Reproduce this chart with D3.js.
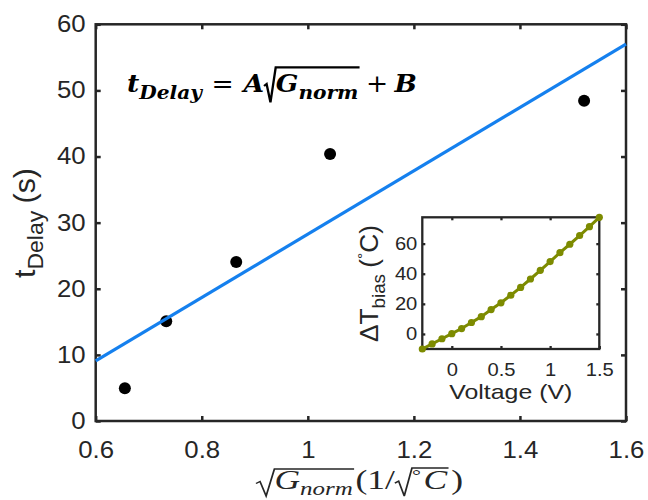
<!DOCTYPE html>
<html>
<head>
<meta charset="utf-8">
<script src="https://cdn.jsdelivr.net/npm/d3@7"></script>
<style>
body { margin: 0; background: #fff; }
svg { display: block; }
</style>
</head>
<body>
<svg id="chart" width="648" height="500"></svg>
<script>
// main plot: measured delay vs sqrt(G_norm)
var sqrtG = [0.655, 0.733, 0.865, 1.042, 1.521];
var tDelay = [4.95, 15.1, 24.05, 40.4, 48.45];
// fitted line t = A*sqrt(G) + B, end points
var fitX = [0.6, 1.6];
var fitT = [9.1, 57.0];
var xTicks = [0.6, 0.8, 1, 1.2, 1.4, 1.6];
var yTicks = [0, 10, 20, 30, 40, 50, 60];

// inset: bias temperature vs voltage
var voltage = [-0.3, -0.2, -0.1, 0, 0.1, 0.2, 0.3, 0.4, 0.5, 0.6, 0.7, 0.8, 0.9, 1.0, 1.1, 1.2, 1.3, 1.4, 1.5];
var dTbias = [-10, -6.6, -3.2, 0.2, 3.6, 7.6, 11.5, 16.2, 20.7, 25.7, 30.9, 36.5, 42.3, 48.1, 54, 59.6, 65.4, 71.3, 77.5];
var insetXTicks = [0, 0.5, 1, 1.5];
var insetYTicks = [0, 20, 40, 60];

var ink = "#262626";
var sans = "'Liberation Sans', Arial, sans-serif";
var svg = d3.select("#chart");

var x = d3.scaleLinear().domain([0.6, 1.6]).range([95.7, 626]);
var y = d3.scaleLinear().domain([0, 60]).range([421, 24.3]);

function stretch(sel, k) {
	sel.each(function() {
		var w = this.getComputedTextLength();
		d3.select(this).attr("textLength", w * k).attr("lengthAdjust", "spacingAndGlyphs");
	});
}

function styleAxis(g, size, sw) {
	g.select(".domain").remove();
	g.selectAll("line").attr("stroke", ink).attr("stroke-width", sw);
	g.selectAll("text").attr("fill", ink).style("font-family", sans).style("font-size", size + "px");
}

function drawAxes(g, sx, sy, xt, yt, tick, pad, size, sw, fmt) {
	var r = sx.range(), h = sy.range();
	var gb = g.append("g").attr("transform", "translate(0," + h[0] + ")")
		.call(d3.axisBottom(sx).tickValues(xt).tickSize(-tick).tickSizeOuter(0).tickPadding(pad[0]).tickFormat(fmt));
	var gt = g.append("g").attr("transform", "translate(0," + h[1] + ")")
		.call(d3.axisTop(sx).tickValues(xt).tickSize(-tick).tickSizeOuter(0).tickFormat(""));
	var gl = g.append("g").attr("transform", "translate(" + r[0] + ",0)")
		.call(d3.axisLeft(sy).tickValues(yt).tickSize(-tick).tickSizeOuter(0).tickPadding(pad[1]).tickFormat(d3.format("d")));
	var gr = g.append("g").attr("transform", "translate(" + r[1] + ",0)")
		.call(d3.axisRight(sy).tickValues(yt).tickSize(-tick).tickSizeOuter(0).tickFormat(""));
	[gb, gt, gl, gr].forEach(function(a) { styleAxis(a, size, sw); });
	stretch(gb.selectAll("text"), 1.12);
	stretch(gl.selectAll("text"), 1.12);
	g.append("rect")
		.attr("x", r[0]).attr("y", h[1])
		.attr("width", r[1] - r[0]).attr("height", h[0] - h[1])
		.attr("fill", "none").attr("stroke", ink).attr("stroke-width", sw);
}

// lays out a row of text pieces (with radicals), returns its width
function mathRow(g, parts, def) {
	var cx = 0, stack = [];
	parts.forEach(function(p) {
		if (p.rad === "start") {
			stack.push({ x: cx, p: p });
			cx += p.w;
			return;
		}
		if (p.rad === "end") {
			var r = stack.pop(), q = r.p;
			var x0 = r.x, yb = q.bot, yt = q.top;
			var d = "M" + x0 + "," + (yb + yt) * 0.42 +
				"L" + (x0 + q.w * 0.22) + "," + ((yb + yt) * 0.42 - 2) +
				"L" + (x0 + q.w * 0.55) + "," + yb +
				"L" + (x0 + q.w) + "," + yt +
				"L" + (cx + 1) + "," + yt;
			g.append("path").attr("d", d).attr("fill", "none")
				.attr("stroke", def.fill).attr("stroke-width", q.sw).attr("stroke-linejoin", "miter");
			cx += 2;
			return;
		}
		cx += p.pl || 0;
		var t = g.append("text")
			.attr("x", cx).attr("y", p.dy || 0)
			.attr("fill", def.fill)
			.style("font-family", p.family || def.family)
			.style("font-size", (p.size || def.size) + "px")
			.style("font-style", p.style || def.style)
			.style("font-weight", p.weight || def.weight);
		if (p.sup) {
			// raised degree sign sharing the text element with what follows
			t.append("tspan").attr("dy", p.sup.dy)
				.style("font-size", p.sup.size + "px").style("font-style", "normal")
				.text(p.sup.s);
			t.append("tspan").attr("dy", -p.sup.dy).attr("dx", p.sup.gap || 0).text(p.s);
		} else {
			t.text(p.s);
		}
		cx += t.node().getComputedTextLength() + (p.sup && p.sup.gap || 0) + (p.pr || 0);
	});
	return cx;
}

function fitRow(parts, def, x0, y0, target, rot) {
	var g = svg.append("g");
	var w = mathRow(g, parts, def);
	g.attr("transform", "translate(" + x0 + "," + y0 + ")" + (rot ? " rotate(-90)" : "") + " scale(" + (target / w) + ",1)");
	return g;
}

// ---------- main plot ----------
var main = svg.append("g");
drawAxes(main, x, y, xTicks, yTicks, 5, [21, 10], 23, 2.5, function(d) { return d3.format("")(d); });

main.selectAll("circle.pt")
	.data(sqrtG)
	.enter().append("circle")
	.attr("class", "pt")
	.attr("cx", function(d) { return x(d); })
	.attr("cy", function(d, i) { return y(tDelay[i]); })
	.attr("r", 6)
	.attr("fill", "#000");

main.append("path")
	.datum(fitX)
	.attr("fill", "none")
	.attr("stroke", "#1580ee")
	.attr("stroke-width", 3.2)
	.attr("d", d3.line().x(function(d) { return x(d); }).y(function(d, i) { return y(fitT[i]); }));

// equation
fitRow([
	{ s: "t" },
	{ s: "Delay", size: 19, dy: 7 },
	{ s: "=", style: "normal", weight: "normal", pl: 9, pr: 9 },
	{ s: "A" },
	{ rad: "start", w: 11, top: -25, bot: 10, sw: 2.2 },
	{ s: "G" },
	{ s: "norm", size: 19, dy: 7 },
	{ rad: "end" },
	{ s: "+", style: "normal", weight: "normal", pl: 5, pr: 6 },
	{ s: "B" }
], { family: "'DejaVu Serif', serif", size: 25, style: "italic", weight: "bold", fill: "#000" }, 127, 92.3, 290, false);

// x label
fitRow([
	{ rad: "start", w: 14, top: -20, bot: 7, sw: 1.3 },
	{ s: "G" },
	{ s: "norm", size: 19, dy: 6 },
	{ rad: "end" },
	{ s: "(1/", style: "normal" },
	{ rad: "start", w: 13, top: -21, bot: 7, sw: 1.3 },
	{ s: "C", sup: { s: "°", size: 17, dy: -8, gap: 2 } },
	{ rad: "end" },
	{ s: ")", style: "normal", pl: 1 }
], { family: "'Liberation Serif', 'Times New Roman', serif", size: 27, style: "italic", weight: "normal", fill: ink }, 256, 489, 207, false);

// y label
fitRow([
	{ s: "t" },
	{ s: "Delay", size: 22, dy: 8 },
	{ s: "(s)", pl: 7 }
], { family: sans, size: 29, style: "normal", weight: "normal", fill: ink }, 35, 278, 110, true);

// ---------- inset ----------
var ix = d3.scaleLinear().domain([-0.3, 1.5]).range([422.3, 599.3]);
var iy = d3.scaleLinear().domain(d3.extent(dTbias)).range([349, 217.3]);

var inset = svg.append("g");
inset.append("rect")
	.attr("x", 422.3).attr("y", 217.3)
	.attr("width", 177).attr("height", 131.7)
	.attr("fill", "#fff");
drawAxes(inset, ix, iy, insetXTicks, insetYTicks, 3, [14.5, 5], 18, 2.3, function(d) { return d3.format("")(d); });

inset.append("path")
	.datum(voltage)
	.attr("fill", "none")
	.attr("stroke", "#7d8b00")
	.attr("stroke-width", 3)
	.attr("d", d3.line().x(function(d) { return ix(d); }).y(function(d, i) { return iy(dTbias[i]); }));

inset.selectAll("circle.ip")
	.data(voltage)
	.enter().append("circle")
	.attr("class", "ip")
	.attr("cx", function(d) { return ix(d); })
	.attr("cy", function(d, i) { return iy(dTbias[i]); })
	.attr("r", 3.6)
	.attr("fill", "#7d8b00");

var vl = inset.append("text")
	.attr("x", 510.8).attr("y", 399)
	.attr("text-anchor", "middle")
	.attr("fill", ink)
	.style("font-family", sans).style("font-size", "21px")
	.text("Voltage (V)");
vl.attr("textLength", 123).attr("lengthAdjust", "spacingAndGlyphs");

fitRow([
	{ s: "ΔT" },
	{ s: "bias", size: 18, dy: 7 },
	{ s: "(", pl: 6 },
	{ s: "C", sup: { s: "°", size: 15, dy: -10, gap: 0 } },
	{ s: ")" }
], { family: sans, size: 25, style: "normal", weight: "normal", fill: ink }, 378, 342, 117, true);
</script>
</body>
</html>
